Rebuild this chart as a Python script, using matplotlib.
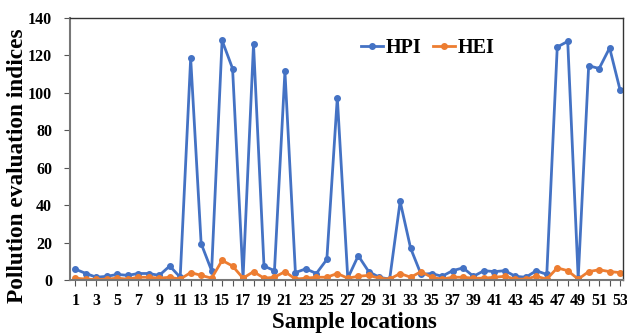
import numpy as np
import matplotlib.pyplot as plt

plt.rcParams['font.family'] = ['Liberation Serif', 'DejaVu Serif']
plt.rcParams['font.weight'] = 'bold'

locations = np.arange(1, 54)
hpi = [5.8, 3.5, 1.5, 2, 3, 2.5, 3.5, 3.5, 2.5, 7.5,
       1.5, 118.5, 19.5, 5, 128, 113, 1, 126, 7.5, 5,
       111.5, 4, 6, 3.5, 11, 97.5, 1, 13, 4.5, 1.5,
       0.5, 42, 17, 3, 3.5, 2, 5, 6.5, 2, 5,
       4.5, 5, 2, 1.5, 5, 3, 124.5, 127.5, 1, 114.5,
       113, 124, 101.5]
hei = [1, 0.5, 0.3, 0.5, 1, 0.5, 1.5, 1.5, 1, 1.5,
       0.5, 4, 2.5, 1, 10.5, 7.5, 1, 4.5, 1, 1.5,
       4.5, 0.5, 1, 1.5, 1.5, 3.5, 1, 2, 2.5, 1,
       0.5, 3.5, 1.5, 4.5, 1.5, 0.5, 1.5, 1.5, 1, 1,
       1.5, 2, 0.5, 0.5, 2, 0.5, 6.5, 5, 0.5, 4.5,
       5.5, 4.5, 4]

fig = plt.figure(figsize=(6.27, 3.33), dpi=100)
ax = fig.add_axes([0.112, 0.159, 0.882, 0.787])

ax.plot(locations, hpi, color='#4472C4', lw=2, marker='o', ms=4, label='HPI')
ax.plot(locations, hei, color='#ED7D31', lw=2, marker='o', ms=4, label='HEI')

ax.set_xlim(0.5, 53.3)
ax.set_ylim(0, 140)
ax.set_yticks(np.arange(0, 141, 20))
ax.set_xticks(locations)
ax.set_xticklabels([str(i) if i % 2 == 1 else '' for i in locations])
ax.tick_params(axis='both', labelsize=11.5, length=4, color='#555555')
ax.tick_params(axis='x', pad=5)
ax.tick_params(axis='y', pad=9)
for lab in ax.get_xticklabels() + ax.get_yticklabels():
    lab.set_fontweight('bold')

for s in ['left', 'bottom']:
    ax.spines[s].set_color('#777777')
    ax.spines[s].set_linewidth(1.5)
for s in ['top', 'right']:
    ax.spines[s].set_color('#333333')
    ax.spines[s].set_linewidth(1.0)

ax.set_xlabel('Sample locations', fontsize=16.5, fontweight='bold')
ax.set_ylabel('Pollution evaluation indices', fontsize=16.8, fontweight='bold')
ax.xaxis.set_label_coords(0.514, -0.122)
ax.yaxis.set_label_coords(-0.076, 0.435)

ax.legend(loc='center left', bbox_to_anchor=(0.526, 0.885), ncol=2, frameon=False,
          prop={'size': 14.5, 'weight': 'bold'}, handlelength=1.1, columnspacing=0.6,
          handletextpad=0.1, borderpad=0, borderaxespad=0)

fig.savefig('out.png', dpi=100)
